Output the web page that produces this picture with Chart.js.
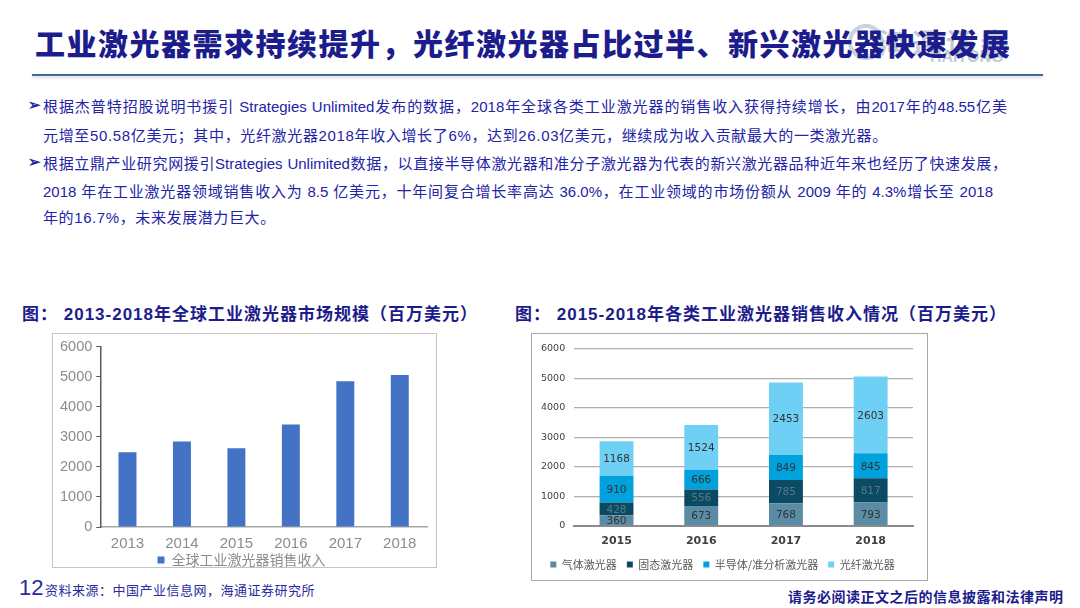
<!DOCTYPE html>
<html>
<head>
<meta charset="utf-8">
<script src="https://cdn.jsdelivr.net/npm/chart.js@4.4.1/dist/chart.umd.min.js"></script>
<style>
  body { margin: 0; width: 1080px; height: 608px; background: #fff; position: relative; overflow: hidden;
         font-family: "Liberation Sans", "Noto Sans CJK SC", sans-serif; }
  .abs { position: absolute; }
  #title { left: 35px; top: 20px; font-size: 30px; font-weight: 900; color: #1c1c8c; letter-spacing: 1.5px;
           font-family: "Noto Sans CJK SC", sans-serif; white-space: nowrap; line-height: 44px; z-index: 2; }
  #rule { left: 32px; top: 74px; width: 1011px; height: 2px; background: #3f6a9e; box-shadow: 0 2px 3px rgba(120,140,170,0.35); }
  .logo { color: #c0ccd8; font-weight: bold; white-space: nowrap; }
  .ln { left: 43px; width: 964px; font-size: 15px; color: #2323a6; line-height: 20px; white-space: nowrap;
        font-family: "Liberation Sans", "Noto Sans CJK SC", sans-serif; }
  .just { text-align: justify; text-align-last: justify; white-space: normal; }
  .bul { left: 28px; font-size: 15px; color: #2323a6; font-weight: bold; }
  .cap { top: 303px; font-size: 17px; font-weight: bold; color: #1c1c8c; letter-spacing: 1px; white-space: nowrap;
         font-family: "Liberation Sans", "Noto Sans CJK SC", sans-serif; line-height: 24px; }
  .frame { box-sizing: border-box; }
</style>
</head>
<body>
<div class="abs logo" style="left:848px;top:24px;width:28px;height:28px;border:4px solid #c8d3de;border-radius:50%;"></div>
<div class="abs logo" style="left:878px;top:22px;font-size:28px;letter-spacing:6px;font-family:'Noto Sans CJK SC';">海通证券</div>
<div class="abs logo" style="left:930px;top:48px;font-size:16px;font-family:'Liberation Sans';">HAITONG</div>
<div id="title" class="abs">工业激光器需求持续提升，光纤激光器占比过半、新兴激光器快速发展</div>
<div id="rule" class="abs"></div>

<div class="abs bul" style="top:96px;">➢</div>
<div class="abs ln just" style="top:97px;">根据杰普特招股说明书援引 Strategies Unlimited发布的数据，2018年全球各类工业激光器的销售收入获得持续增长，由2017年的48.55亿美</div>
<div class="abs ln" style="top:126px;letter-spacing:0.65px;">元增至50.58亿美元；其中，光纤激光器2018年收入增长了6%，达到26.03亿美元，继续成为收入贡献最大的一类激光器。</div>
<div class="abs bul" style="top:153px;">➢</div>
<div class="abs ln just" style="top:154px;">根据立鼎产业研究网援引Strategies Unlimited数据，以直接半导体激光器和准分子激光器为代表的新兴激光器品种近年来也经历了快速发展，</div>
<div class="abs ln just" style="top:182px;width:950px;">2018 年在工业激光器领域销售收入为 8.5 亿美元，十年间复合增长率高达 36.0%，在工业领域的市场份额从 2009 年的 4.3%增长至 2018</div>
<div class="abs ln" style="top:208px;letter-spacing:0.6px;">年的16.7%，未来发展潜力巨大。</div>

<div class="abs cap" style="left:22px;">图：&nbsp;2013-2018年全球工业激光器市场规模（百万美元）</div>
<div class="abs cap" style="left:515px;">图：&nbsp;2015-2018年各类工业激光器销售收入情况（百万美元）</div>

<div class="abs frame" style="left:52px;top:333px;width:385px;height:235px;border:1.5px solid #c4c4c4;">
  <canvas id="leftChart"></canvas>
</div>
<div class="abs frame" style="left:531px;top:333px;width:397px;height:248px;border:1.5px solid #a8a8a8;">
  <canvas id="rightChart"></canvas>
</div>

<div class="abs" style="left:19px;top:575px;font-size:22px;color:#2a2aa0;font-family:'Liberation Sans';">12</div>
<div class="abs" style="left:45px;top:580px;font-size:13px;color:#2a2aa0;font-family:'Noto Sans CJK SC';letter-spacing:0.5px;">资料来源：中国产业信息网，海通证券研究所</div>
<div class="abs" style="left:788px;top:586px;font-size:14px;font-weight:bold;color:#1c1c8c;font-family:'Noto Sans CJK SC';letter-spacing:0.5px;">请务必阅读正文之后的信息披露和法律声明</div>

<script>
// left chart: global industrial laser market (million USD)
const leftYears = ["2013", "2014", "2015", "2016", "2017", "2018"];
const marketSize = [2490, 2845, 2620, 3410, 4850, 5058];

// right chart: revenue by laser type (million USD)
const rightYears = ["2015", "2016", "2017", "2018"];
const gasLaser = [360, 673, 768, 793];
const solidLaser = [428, 556, 785, 817];
const semiLaser = [910, 666, 849, 845];
const fiberLaser = [1168, 1524, 2453, 2603];
const typeNames = ["气体激光器", "固态激光器", "半导体/准分析激光器", "光纤激光器"];

const yMax = 6000;
const yStep = 1000;

Chart.defaults.animation = false;
Chart.defaults.responsive = true;
Chart.defaults.maintainAspectRatio = false;
Chart.defaults.font.family = "'Liberation Sans', 'Noto Sans CJK SC', sans-serif";

const plainTick = v => String(v);

new Chart(document.getElementById("leftChart"), {
    type: "bar",
    data: {
        labels: leftYears,
        datasets: [{
            label: "全球工业激光器销售收入",
            data: marketSize,
            backgroundColor: "#4472c4",
            categoryPercentage: 1,
            barPercentage: 0.33
        }]
    },
    options: {
        layout: { padding: { left: 3, right: 9, top: 11, bottom: -10 } },
        plugins: {
            tooltip: { enabled: false },
            legend: {
                position: "bottom",
                labels: {
                    boxWidth: 7, boxHeight: 7, padding: 0, color: "#8c8c8c",
                    font: { size: 14, family: "'Noto Sans CJK SC', sans-serif" }
                }
            }
        },
        scales: {
            x: {
                grid: { display: false },
                border: { color: "#a6a6a6", width: 1.5 },
                ticks: { color: "#8c8c8c", font: { size: 15 }, padding: 0 }
            },
            y: {
                min: 0, max: yMax,
                ticks: { stepSize: yStep, color: "#8c8c8c", font: { size: 14.5 }, padding: 4, callback: plainTick },
                grid: { drawOnChartArea: false, drawTicks: true, tickLength: 4, color: "#595959" },
                border: { color: "#595959", width: 1.5 }
            }
        }
    }
});

// value labels in the middle of each stacked segment
const labelColors = ["#333", "#58788a", "#333", "#333"];
const segmentLabels = {
    id: "segmentLabels",
    afterDatasetsDraw(chart) {
        const ctx = chart.ctx;
        ctx.save();
        ctx.font = "10.5px 'DejaVu Sans'";
        ctx.textAlign = "center";
        ctx.textBaseline = "middle";
        chart.data.datasets.forEach((ds, i) => {
            ctx.fillStyle = labelColors[i];
            chart.getDatasetMeta(i).data.forEach((bar, j) => {
                const p = bar.getProps(["x", "y", "base"], true);
                ctx.fillText(ds.data[j], p.x, (p.y + p.base) / 2 + 1);
            });
        });
        ctx.restore();
    }
};

const typeColors = ["#5b8ca5", "#0b4a63", "#00a2de", "#6fd0f5"];
const typeData = [gasLaser, solidLaser, semiLaser, fiberLaser];

new Chart(document.getElementById("rightChart"), {
    type: "bar",
    data: {
        labels: rightYears,
        datasets: typeData.map((d, i) => ({
            label: typeNames[i],
            data: d,
            backgroundColor: typeColors[i],
            categoryPercentage: 1,
            barPercentage: 0.4
        }))
    },
    options: {
        layout: { padding: { left: 0, right: 14, top: -4, bottom: 0 } },
        plugins: {
            tooltip: { enabled: false },
            legend: {
                position: "bottom",
                labels: {
                    boxWidth: 6, boxHeight: 6, padding: 10, color: "#595959",
                    font: { size: 11, family: "'Noto Sans CJK SC', sans-serif" }
                }
            }
        },
        scales: {
            x: {
                stacked: true,
                grid: { display: false },
                border: { color: "#8c8c8c", width: 2 },
                ticks: { color: "#404040", font: { size: 11, weight: "bold", family: "'DejaVu Sans'" }, padding: 1 }
            },
            y: {
                stacked: true,
                min: 0, max: yMax,
                ticks: { stepSize: yStep, color: "#404040", font: { size: 9.5, family: "'DejaVu Sans'" }, padding: 9, callback: plainTick },
                grid: { color: "#b0b0b0", lineWidth: 1.3, drawTicks: false },
                border: { display: false }
            }
        }
    },
    plugins: [segmentLabels]
});
</script>
</body>
</html>
